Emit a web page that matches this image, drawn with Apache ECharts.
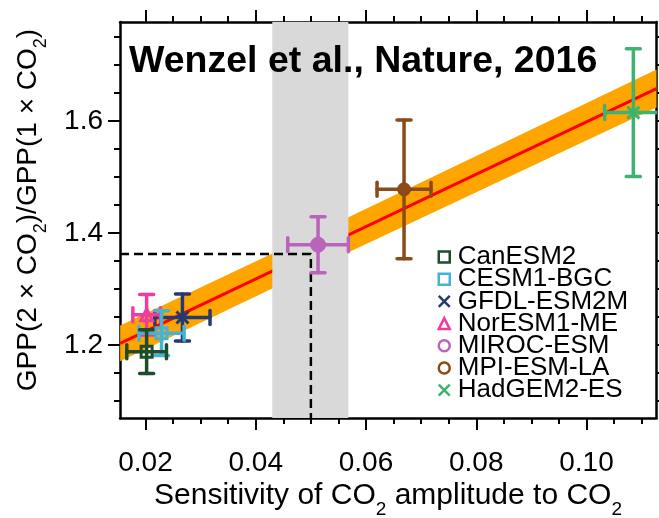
<!DOCTYPE html>
<html><head><meta charset="utf-8">
<script src="https://cdn.jsdelivr.net/npm/echarts@6/dist/echarts.min.js"></script>
<style>html,body{margin:0;padding:0;background:#fff}#c{width:659px;height:518px}</style>
</head><body><div id="c"></div>
<script>
// ---- data ----
const models = ['CanESM2', 'CESM1-BGC', 'GFDL-ESM2M', 'NorESM1-ME', 'MIROC-ESM', 'MPI-ESM-LA', 'HadGEM2-ES'];
const sensitivity    = [0.0202, 0.0229, 0.0267, 0.0202, 0.0513, 0.0669, 0.1085];
const sensitivityErr = [0.0036, 0.0041, 0.0050, 0.0025, 0.0055, 0.0049, 0.0052];
const gppRatio       = [1.188, 1.221, 1.249, 1.254, 1.379, 1.478, 1.615];
const gppRatioErr    = [0.039, 0.040, 0.042, 0.036, 0.050, 0.124, 0.114];
const fitX = [0.0154, 0.1127];
const fitY = [1.203, 1.658];
const bandX = [0.0154, 0.05, 0.1127];
const bandLow  = [1.171, 1.334, 1.624];
const bandHigh = [1.235, 1.396, 1.692];
const obsRange = [0.043, 0.0568];
const constraintX = 0.05;
const constraintY = 1.3625;
const xMajorTicks = [0.02, 0.04, 0.06, 0.08, 0.10];
const xMinorTicks = [0.025, 0.03, 0.035, 0.045, 0.05, 0.055, 0.065, 0.07, 0.075, 0.085, 0.09, 0.095, 0.105, 0.11];
const yMajorTicks = [1.2, 1.4, 1.6];
const yMinorTicks = [1.1, 1.15, 1.25, 1.3, 1.35, 1.45, 1.5, 1.55, 1.65, 1.7, 1.75];
const xTitle = '{n|Sensitivity of CO}{s|2}{n| amplitude to CO}{s|2}';
const yTitle = '{n|GPP(2 × CO}{s|2}{n|)/GPP(1 × CO}{s|2}{n|)}';
const titleText = 'Wenzel et al., Nature, 2016';

// ---- style ----
const colors = ['#1e4d2b', '#45b2d8', '#263a6e', '#ee3d9f', '#b963b9', '#8b4a16', '#3cb371'];
const XPATH = 'path://M0,0L10,10M10,0L0,10';
const plotSymbols = ['rect', 'rect', XPATH, 'triangle', 'circle', 'circle', XPATH];
const plotFilled  = [false, false, false, false, true, true, false];
const plotSizes   = [11, 11, 12, 12, 15, 13, 12];
const legendIcons = ['rect', 'rect', XPATH, 'triangle', 'circle', 'circle', XPATH];
const FONT = 'Liberation Sans, Arial, Helvetica, sans-serif';
const X_MIN = 0.01537, X_MAX = 0.1127, Y_MIN = 1.0696, Y_MAX = 1.7768;

function xAxisDef(pos, ticks, len, showLine, labels) {
  return {
    type: 'value', position: pos, min: X_MIN, max: X_MAX, gridIndex: 0,
    axisLine: { show: showLine, onZero: false, lineStyle: { color: '#000', width: 2.5 } },
    axisTick: { show: true, customValues: ticks, length: len, inside: false, lineStyle: { color: '#000', width: 2 } },
    axisLabel: labels ? { show: true, customValues: ticks, formatter: v => v.toFixed(2), fontSize: 28, fontFamily: FONT, color: '#000', margin: 31 } : { show: false },
    splitLine: { show: false }
  };
}
function yAxisDef(pos, ticks, len, showLine, labels) {
  return {
    type: 'value', position: pos, min: Y_MIN, max: Y_MAX, gridIndex: 0,
    axisLine: { show: showLine, onZero: false, lineStyle: { color: '#000', width: 2.5 } },
    axisTick: { show: true, customValues: ticks, length: len, inside: false, lineStyle: { color: '#000', width: 2 } },
    axisLabel: labels ? { show: true, customValues: ticks, formatter: v => v.toFixed(1), fontSize: 28, fontFamily: FONT, color: '#000', margin: 17 } : { show: false },
    splitLine: { show: false }
  };
}

const chart = echarts.init(document.getElementById('c'), null, { renderer: 'canvas' });

const errOrder = [6, 5, 4, 2, 3, 1, 0];
const series = [];
series.push({
  type: 'custom', name: 'band', coordinateSystem: 'cartesian2d', clip: true, silent: true, z: 1,
  data: [[bandX[0], bandLow[0]]],
  renderItem: (params, api) => {
    const pts = [];
    bandX.forEach((x, i) => pts.push(api.coord([x, bandHigh[i]])));
    for (let i = bandX.length - 1; i >= 0; i--) pts.push(api.coord([bandX[i], bandLow[i]]));
    return { type: 'polygon', shape: { points: pts }, style: { fill: '#ffa500' } };
  }
});
series.push({
  type: 'line', name: 'fit', data: fitX.map((x, i) => [x, fitY[i]]), symbol: 'none', silent: true, z: 2,
  lineStyle: { color: '#ff0000', width: 3 }
});
series.push({
  type: 'custom', name: 'obs', coordinateSystem: 'cartesian2d', clip: true, silent: true, z: 3,
  data: [[obsRange[0], obsRange[1]]],
  renderItem: (params, api) => {
    const p0 = api.coord([api.value(0), Y_MAX]);
    const p1 = api.coord([api.value(1), Y_MIN]);
    return { type: 'rect', shape: { x: p0[0], y: p0[1], width: p1[0] - p0[0], height: p1[1] - p0[1] }, style: { fill: '#d9d9d9' } };
  }
});
series.push({
  type: 'line', name: 'constraint', symbol: 'none', silent: true, z: 4,
  data: [[X_MIN, constraintY], [constraintX, constraintY], [constraintX, Y_MIN]],
  lineStyle: { color: '#000', width: 2.5, type: [9, 5] }
});
series.push({
  type: 'custom', name: 'errors', coordinateSystem: 'cartesian2d', clip: true, silent: true, z: 5,
  data: errOrder.map(i => [sensitivity[i], gppRatio[i], sensitivityErr[i], gppRatioErr[i], i]),
  renderItem: (params, api) => {
    const x = api.value(0), y = api.value(1), ex = api.value(2), ey = api.value(3), k = api.value(4);
    const c = colors[k];
    const L = api.coord([x - ex, y]), R = api.coord([x + ex, y]);
    const T = api.coord([x, y + ey]), B = api.coord([x, y - ey]);
    const cap = 7;
    const st = { stroke: c, lineWidth: 3.5, lineCap: 'round' };
    const ln = (a, b, c2, d) => ({ type: 'line', shape: { x1: a, y1: b, x2: c2, y2: d }, style: st });
    return { type: 'group', children: [
      ln(L[0], L[1], R[0], R[1]),
      ln(T[0], T[1], B[0], B[1]),
      ln(L[0], L[1] - cap, L[0], L[1] + cap),
      ln(R[0], R[1] - cap, R[0], R[1] + cap),
      ln(T[0] - cap, T[1], T[0] + cap, T[1]),
      ln(B[0] - cap, B[1], B[0] + cap, B[1])
    ] };
  }
});
models.forEach((m, i) => {
  series.push({
    type: 'scatter', name: m, z: 6,
    data: [[sensitivity[i], gppRatio[i]]],
    symbol: plotSymbols[i], symbolSize: plotSizes[i],
    itemStyle: plotFilled[i]
      ? { color: colors[i], borderColor: colors[i], borderWidth: 1, opacity: 1 }
      : { color: 'rgba(0,0,0,0)', borderColor: colors[i], borderWidth: 3, opacity: 1 }
  });
});

const richX = {
  n: { fontSize: 30, lineHeight: 46, fontFamily: FONT, fill: '#000' },
  s: { fontSize: 19, lineHeight: 19, verticalAlign: 'bottom', fontFamily: FONT, fill: '#000' }
};
const richY = {
  n: { fontSize: 28, lineHeight: 44, fontFamily: FONT, fill: '#000' },
  s: { fontSize: 18, lineHeight: 18, verticalAlign: 'bottom', fontFamily: FONT, fill: '#000' }
};

chart.setOption({
  animation: false,
  backgroundColor: '#fff',
  title: {
    text: titleText, left: 129, top: 43, padding: 0,
    textStyle: { fontSize: 37.5, fontWeight: 'bold', fontFamily: FONT, color: '#000' }
  },
  grid: { left: 120, right: 2.5, top: 22, bottom: 100, containLabel: false, outerBoundsMode: 'none' },
  legend: {
    orient: 'vertical', left: 437.5, top: 244, itemWidth: 11, itemHeight: 11, itemGap: -3.8,
    padding: 0, selectedMode: false,
    textStyle: { fontSize: 26, fontFamily: FONT, color: '#000', lineHeight: 22, padding: [0, 0, 0, 3] },
    data: models.map((m, i) => ({
      name: m, icon: legendIcons[i],
      itemStyle: { color: 'rgba(0,0,0,0)', borderColor: colors[i], borderWidth: 2.5, opacity: 1 }
    }))
  },
  xAxis: [
    xAxisDef('bottom', xMajorTicks, 12, true, true),
    xAxisDef('bottom', xMinorTicks, 6, false, false),
    xAxisDef('top', xMajorTicks, 12, true, false),
    xAxisDef('top', xMinorTicks, 6, false, false)
  ],
  yAxis: [
    yAxisDef('left', yMajorTicks, 12, true, true),
    yAxisDef('left', yMinorTicks, 6, false, false),
    yAxisDef('right', yMajorTicks, 12, true, false),
    yAxisDef('right', yMinorTicks, 6, false, false)
  ],
  graphic: [
    {
      type: 'text', x: 388, y: 496, silent: true,
      style: { text: xTitle, align: 'center', verticalAlign: 'middle', fill: '#000', rich: richX }
    },
    {
      type: 'text', x: 28, y: 210, rotation: Math.PI / 2, silent: true,
      style: { text: yTitle, align: 'center', verticalAlign: 'middle', fill: '#000', rich: richY }
    }
  ],
  series: series
});
</script>
</body></html>
